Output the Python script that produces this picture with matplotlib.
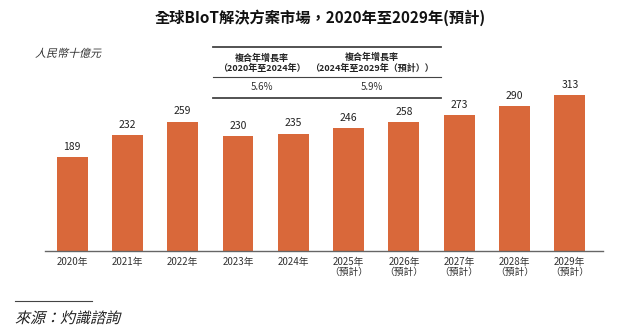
import matplotlib
matplotlib.use("Agg")
import matplotlib.pyplot as plt
from matplotlib.lines import Line2D
from matplotlib.textpath import TextPath
from matplotlib.patches import PathPatch
from matplotlib.font_manager import FontProperties
from matplotlib.transforms import Affine2D, IdentityTransform

plt.rcParams['font.family'] = ['Noto Sans CJK TC', 'DejaVu Sans']

# data
years = ['2020年', '2021年', '2022年', '2023年', '2024年',
         '2025年\n（預計）', '2026年\n（預計）', '2027年\n（預計）',
         '2028年\n（預計）', '2029年\n（預計）']
values = [189, 232, 259, 230, 235, 246, 258, 273, 290, 313]
cagr_heads = ['複合年增長率\n（2020年至2024年）',
              '複合年增長率\n（2024年至2029年（預計））']
cagr_vals = ['5.6%', '5.9%']

W, H = 640, 330
fig = plt.figure(figsize=(6.4, 3.3), dpi=100)
ax = fig.add_axes([45 / W, 1 - 251 / H, 558 / W, 204 / H])

x = range(len(years))
bars = ax.bar(x, values, width=0.56, color='#D9683A')
for b, v in zip(bars, values):
    ax.text(b.get_x() + b.get_width() / 2, v + 10, str(v),
            ha='center', va='bottom', fontsize=7.5, color='#222222')

ax.set_xlim(-0.49, 9.6)
ax.set_ylim(0, 408)
ax.set_yticks([])
ax.set_xticks(list(x))
ax.set_xticklabels(years, fontsize=7, color='#333333', linespacing=1.1)
ax.tick_params(axis='x', length=0, pad=4)
for s in ['top', 'right', 'left']:
    ax.spines[s].set_visible(False)
ax.spines['bottom'].set_color('#666666')
ax.spines['bottom'].set_linewidth(1.0)


def fx(px):
    return px / W


def fy(py):
    return 1 - py / H


def slanted(text, px, py, size, color):
    # fake italic: sheared text path placed in pixel coords
    tp = TextPath((0, 0), text, size=size,
                  prop=FontProperties(family='Noto Sans CJK TC'))
    tr = Affine2D().skew_deg(14, 0).translate(px, H - py)
    patch = PathPatch(tr.transform_path(tp), facecolor=color, lw=0,
                      transform=IdentityTransform())
    fig.add_artist(patch)


# title
fig.text(fx(320), fy(18), '全球BIoT解決方案市場，2020年至2029年(預計)',
         ha='center', va='center', fontsize=11, fontweight='bold',
         color='#111111')

# unit label
slanted('人民幣十億元', 35, 57, 11, '#333333')

# cagr table
for py, lw in [(47, 1.3), (77, 0.8), (98, 1.3)]:
    fig.add_artist(Line2D([fx(213), fx(441)], [fy(py), fy(py)],
                          color='#444444', lw=lw))
for cx, head, val in zip([262, 372], cagr_heads, cagr_vals):
    fig.text(fx(cx), fy(63), head, ha='center', va='center', fontsize=6.5,
             fontweight='bold', color='#222222', linespacing=1.2)
    fig.text(fx(cx), fy(87), val, ha='center', va='center', fontsize=7,
             color='#333333')

# source
fig.add_artist(Line2D([fx(15), fx(92)], [fy(301), fy(301)],
                      color='#444444', lw=0.8))
slanted('來源：灼識諮詢', 15, 323, 15, '#222222')

fig.savefig('out.png', dpi=100)
